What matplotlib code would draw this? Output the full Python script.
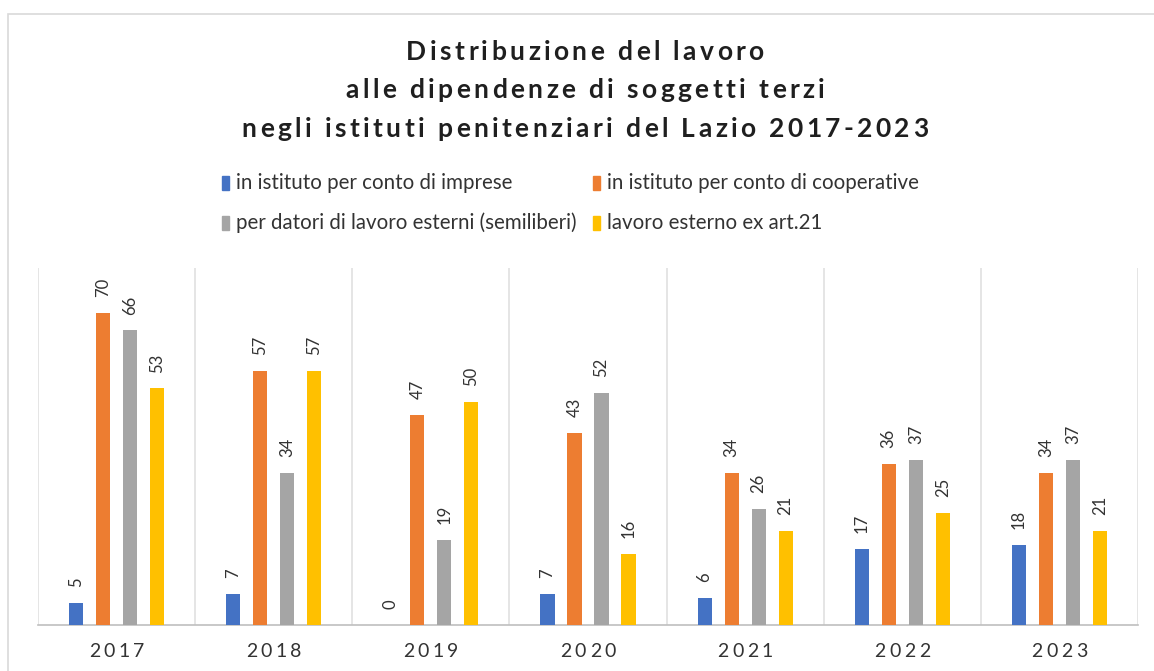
import matplotlib.pyplot as plt
from matplotlib.patches import Rectangle
from matplotlib.font_manager import FontProperties
import numpy as np

# --- data ---
years = ["2017", "2018", "2019", "2020", "2021", "2022", "2023"]
imprese = [5, 7, 0, 7, 6, 17, 18]
cooperative = [70, 57, 47, 43, 34, 36, 34]
semiliberi = [66, 34, 19, 52, 26, 37, 37]
art21 = [53, 57, 50, 16, 21, 25, 21]

series_names = [
    "in istituto per conto di imprese",
    "in istituto per conto di cooperative",
    "per datori di lavoro esterni (semiliberi)",
    "lavoro esterno ex art.21",
]
colors = ["#4472C4", "#ED7D31", "#A5A5A5", "#FFC000"]
series = [imprese, cooperative, semiliberi, art21]

title_lines = ["Distribuzione del lavoro",
               "alle dipendenze di soggetti terzi",
               "negli istituti penitenziari del Lazio 2017-2023"]

W, H = 1154, 671
fig = plt.figure(figsize=(W / 100, H / 100), dpi=100)
fig.patch.set_facecolor("white")
renderer = fig.canvas.get_renderer()


def spaced_text(cx, base_y, s, spacing, prop, color):
    # letter-spaced text centred on cx (pixels), baseline at base_y (pixels from top)
    widths = [renderer.get_text_width_height_descent(c, prop, ismath=False)[0] for c in s]
    total = sum(widths) + spacing * (len(s) - 1)
    xx = cx - total / 2
    for c, w in zip(s, widths):
        fig.text(xx / W, 1 - base_y / H, c, fontproperties=prop, ha="left",
                 va="baseline", color=color)
        xx += w + spacing


# outer chart frame (top and left edges visible)
fig.add_artist(Rectangle((8 / W, -0.01), 1.2, (H - 14) / H + 0.01, transform=fig.transFigure,
                         fill=False, edgecolor="#D9D9D9", lw=1.2))

ax = fig.add_axes([38 / W, 1 - 625 / H, 1100 / W, 357 / H])
x = np.arange(len(years))
slot = 0.172
bw = 0.09
for i, (vals, col) in enumerate(zip(series, colors)):
    pos = x + (i - 1.5) * slot
    ax.bar(pos, vals, width=bw, color=col, zorder=3)
    for p, v in zip(pos, vals):
        ax.annotate(str(v), (p, v), xytext=(0, 11.5), textcoords="offset points",
                    rotation=90, ha="center", va="bottom", fontsize=12,
                    color="#333333", family="Lato")

ax.set_xlim(-0.5, len(years) - 0.5)
ax.set_ylim(0, 80)
for b in np.arange(-0.5, len(years), 1.0):
    ax.axvline(b, color="#E0E0E0", lw=1.2, zorder=1)
for s in ["top", "right", "left"]:
    ax.spines[s].set_visible(False)
ax.spines["bottom"].set_color("#BFBFBF")
ax.spines["bottom"].set_linewidth(1.2)
ax.set_yticks([])
ax.set_xticks([])

# year labels, letter-spaced, centred under each group
year_prop = FontProperties(family="Lato", size=14)
for i, yr in enumerate(years):
    px = ax.transData.transform((i, 0))[0]
    spaced_text(px, 657, yr, 3.5, year_prop, "#333333")

# title, letter-spaced bold
title_prop = FontProperties(family="Lato", weight="bold", size=19)
for line, base in zip(title_lines, [60, 98, 137]):
    spaced_text(585, base, line, 3.4, title_prop, "#1F1F1F")

# legend, laid out like the original (flowing rows)
legend_pos = [(222, 183), (593, 183), (222, 223), (593, 223)]
for name, col, (lx, ly) in zip(series_names, colors, legend_pos):
    fig.add_artist(Rectangle((lx / W, 1 - (ly + 7) / H), 7 / W, 14 / H,
                             transform=fig.transFigure, color=col))
    fig.text((lx + 14) / W, 1 - ly / H, name, ha="left", va="center",
             fontsize=14.8, color="#333333", family="Lato")

fig.savefig("out.png", dpi=100)
